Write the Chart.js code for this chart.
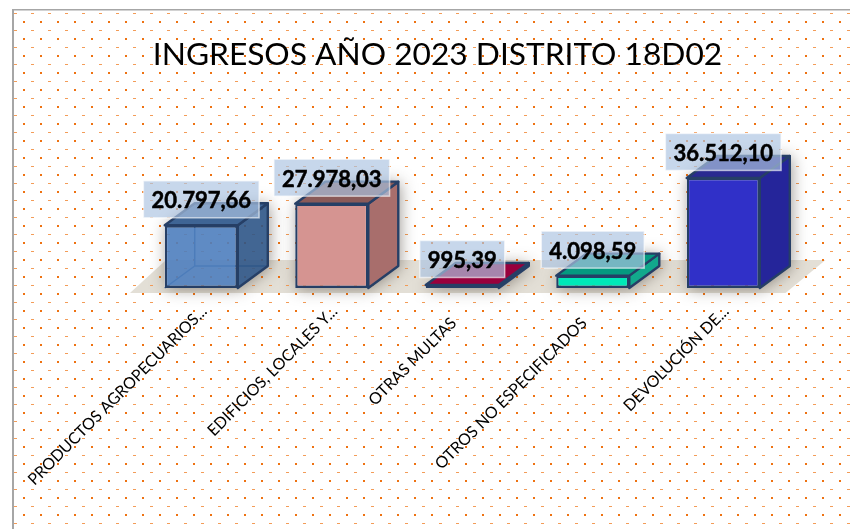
<!DOCTYPE html>
<html lang="es">
<head>
  <meta charset="UTF-8" />
  <title>Ingresos 2023</title>
  <script src="https://cdn.jsdelivr.net/npm/chart.js"></script>
  <style>
    body { margin: 0; background: #fff; }
    #wrap { width: 850px; height: 529px; }
  </style>
</head>
<body>
  <div id="wrap"><canvas id="chart" width="850" height="529"></canvas></div>

  <script>
    const chartTitle = "INGRESOS AÑO 2023 DISTRITO 18D02";
    const categories = [
      "PRODUCTOS AGROPECUARIOS...",
      "EDIFICIOS, LOCALES Y...",
      "OTRAS MULTAS",
      "OTROS NO ESPECIFICADOS",
      "DEVOLUCIÓN DE..."
    ];
    const values = [20797.66, 27978.03, 995.39, 4098.59, 36512.10];

    const frontColors = ["rgba(78,126,190,0.9)", "#d59491", "#98003c", "#00e8b8", "#3030c8"];
    const sideColors = ["rgba(45,85,135,0.9)", "#a86e6c", "#98003c", "#12a98c", "#25259a"];
    const topColors = ["#3f6595", "#8a5a58", "#98003c", "#059a80", "#2a2a90"];

    const edgeColor = "#263f66";
    const depthX = 30;
    const depthY = 22;

    function dotTile() {
      const tile = document.createElement("canvas");
      tile.width = 17;
      tile.height = 17;
      const t = tile.getContext("2d");
      t.fillStyle = "#f39c58";
      t.fillRect(0, 0, 3, 1);
      t.fillStyle = "#ee7212";
      t.fillRect(9, 8, 2, 2);
      return tile;
    }

    function poly(ctx, pts) {
      ctx.beginPath();
      pts.forEach((p, i) => i ? ctx.lineTo(p[0], p[1]) : ctx.moveTo(p[0], p[1]));
      ctx.closePath();
    }

    const backdrop = {
      id: "backdrop",
      beforeDraw(chart) {
        const ctx = chart.ctx;
        const { left, right } = chart.chartArea;
        const base = chart.scales.y.getPixelForValue(0);
        ctx.save();
        ctx.fillStyle = "#fff";
        ctx.fillRect(0, 0, 850, 529);
        // floor under the bars
        poly(ctx, [[left - 6, base + 5], [left + 30, base - 28], [right + 37, base - 28], [right - 3, base + 5]]);
        ctx.fillStyle = "#e3dfd6";
        ctx.fill();
        // dotted chart area
        ctx.translate(14, 13);
        ctx.fillStyle = ctx.createPattern(dotTile(), "repeat");
        ctx.fillRect(0, -2, 836, 518);
        ctx.setTransform(1, 0, 0, 1, 0, 0);
        // frame, left and top only
        ctx.fillStyle = "#a6a6a6";
        ctx.fillRect(12, 10, 2, 519);
        ctx.fillRect(12, 9, 838, 1.5);
        ctx.restore();
      }
    };

    const boxes3d = {
      id: "boxes3d",
      beforeDatasetsDraw(chart) {
        const ctx = chart.ctx;
        chart.getDatasetMeta(0).data.forEach((bar, i) => {
          const l = bar.x - bar.width / 2;
          const r = bar.x + bar.width / 2;
          const t = bar.y;
          const b = bar.base;
          const outline = [[l, t], [l + depthX, t - depthY], [r + depthX, t - depthY], [r + depthX, b - depthY], [r, b], [l, b]];

          // soft shadow outside the box only
          ctx.save();
          ctx.beginPath();
          ctx.rect(0, 0, 850, 529);
          outline.forEach((p, k) => k ? ctx.lineTo(p[0], p[1]) : ctx.moveTo(p[0], p[1]));
          ctx.closePath();
          ctx.clip("evenodd");
          ctx.shadowColor = "rgba(60,50,40,0.5)";
          ctx.shadowBlur = 15;
          ctx.shadowOffsetX = 2;
          ctx.shadowOffsetY = 1;
          poly(ctx, outline);
          ctx.fillStyle = "#fff";
          ctx.fill();
          ctx.restore();

          ctx.save();
          ctx.strokeStyle = edgeColor;
          ctx.lineWidth = 2.4;
          ctx.lineJoin = "round";

          // inner back edges, seen through the see-through first box
          if (i === 0) {
            ctx.save();
            ctx.lineWidth = 1.5;
            ctx.strokeStyle = "#3f6595";
            ctx.beginPath();
            ctx.moveTo(l, b);
            ctx.lineTo(l + depthX, b - depthY);
            ctx.lineTo(r + depthX, b - depthY);
            ctx.moveTo(l + depthX, b - depthY);
            ctx.lineTo(l + depthX, t - depthY);
            ctx.stroke();
            ctx.restore();
          }

          poly(ctx, [[r, t], [r + depthX, t - depthY], [r + depthX, b - depthY], [r, b]]);
          ctx.fillStyle = sideColors[i];
          ctx.fill();
          ctx.stroke();

          poly(ctx, [[l, t], [l + depthX, t - depthY], [r + depthX, t - depthY], [r, t]]);
          ctx.fillStyle = topColors[i];
          ctx.fill();
          ctx.stroke();
          ctx.restore();
        });
      },
      afterDatasetsDraw(chart) {
        const ctx = chart.ctx;
        chart.getDatasetMeta(0).data.forEach((bar, i) => {
          const text = values[i].toLocaleString("de-DE", { minimumFractionDigits: 2, maximumFractionDigits: 2 });
          ctx.save();
          ctx.font = "bold 22px Lato";
          const w = ctx.measureText(text).width + 16;
          const h = 37;
          const cx = bar.x;
          const cy = bar.y - 26;
          ctx.fillStyle = "rgba(172,196,226,0.68)";
          ctx.strokeStyle = "rgba(255,255,255,0.6)";
          ctx.lineWidth = 1.5;
          ctx.fillRect(cx - w / 2, cy - h / 2, w, h);
          ctx.strokeRect(cx - w / 2, cy - h / 2, w, h);
          ctx.fillStyle = "#000";
          ctx.strokeStyle = "#000";
          ctx.lineWidth = 0.5;
          ctx.textAlign = "center";
          ctx.textBaseline = "middle";
          ctx.fillText(text, cx, cy + 2);
          ctx.strokeText(text, cx, cy + 2);
          ctx.restore();
        });
      }
    };

    new Chart(document.getElementById("chart"), {
      type: "bar",
      data: {
        labels: categories,
        datasets: [{
          data: values,
          backgroundColor: frontColors,
          borderColor: edgeColor,
          borderWidth: 2.4,
          borderSkipped: false,
          categoryPercentage: 1,
          barPercentage: 0.56
        }]
      },
      options: {
        responsive: false,
        animation: false,
        layout: { padding: { left: 25, right: 0, top: 0, bottom: 0 } },
        plugins: {
          legend: { display: false },
          tooltip: { enabled: false },
          title: {
            display: true,
            text: chartTitle,
            color: "#000",
            font: { family: "Lato", size: 31.7, weight: "normal" },
            padding: { top: 36, bottom: 93.4 }
          }
        },
        scales: {
          x: {
            grid: { display: false },
            border: { display: false },
            afterFit: s => { s.height = 241; },
            ticks: {
              autoSkip: false,
              minRotation: 45,
              maxRotation: 45,
              padding: 6,
              labelOffset: 3,
              color: "#000",
              font: { family: "Lato", size: 16 },
              // the two middle labels sit a little further from their bars
              callback: (v, i) => (i === 2 || i === 3) ? categories[i] + "    " : categories[i]
            }
          },
          y: {
            min: 0,
            max: 40000,
            grid: { display: false },
            border: { display: false },
            ticks: { display: false },
            afterFit: s => { s.width = 111; }
          },
          spacer: {
            position: "right",
            grid: { display: false },
            border: { display: false },
            ticks: { display: false },
            afterFit: s => { s.width = 61.5; }
          }
        }
      },
      plugins: [backdrop, boxes3d]
    });
  </script>
</body>
</html>
